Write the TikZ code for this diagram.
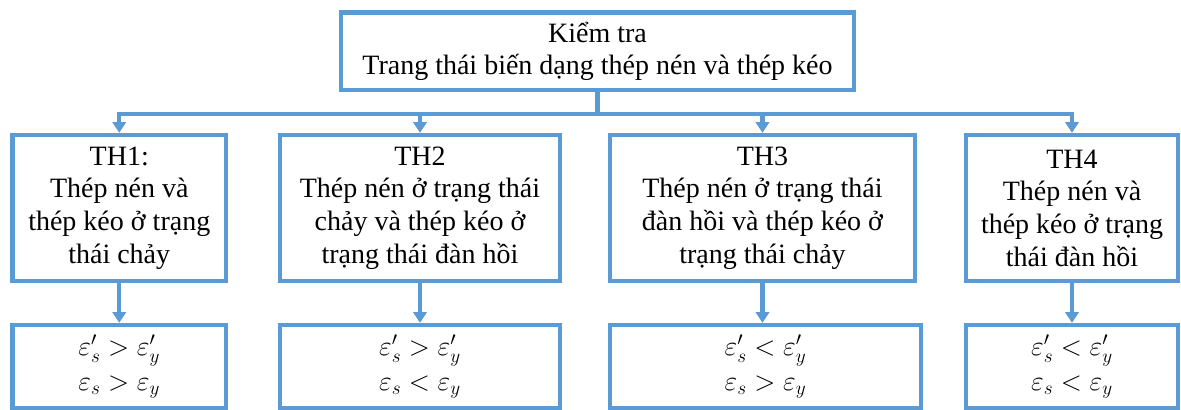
\documentclass[tikz,border=0pt]{standalone}
\usepackage{fontspec}
\setmainfont{Liberation Serif}
\usetikzlibrary{arrows.meta}
\definecolor{boxblue}{RGB}{91,155,213}

\begin{document}
\begin{tikzpicture}[x=0.75pt, y=-0.75pt,
		box/.style={draw=boxblue, line width=3.3pt, align=center, inner sep=0pt,
			font=\fontsize{21}{24.5}\selectfont},
		arrow/.style={draw=boxblue, line width=3.3pt, -{Triangle[width=10pt, length=8pt]}}]
		\useasboundingbox (0, 0) rectangle (1181, 410);
		
		% top box
		\node[box, minimum width=384.75pt, minimum height=58.1pt] (check) at (597.5, 51.25)
			{Kiểm tra\\Trang thái biến dạng thép nén và thép kéo};
		
		% the four cases
		\node[box, minimum width=160.1pt, minimum height=109.5pt] (th1) at (119.25, 208)
			{TH1:\\Thép nén và\\thép kéo ở trạng\\thái chảy};
		\node[box, minimum width=210pt, minimum height=109.5pt] (th2) at (420, 208)
			{TH2\\Thép nén ở trạng thái\\chảy và thép kéo ở\\trạng thái đàn hồi};
		\node[box, minimum width=228.75pt, minimum height=109.5pt] (th3) at (762.5, 208)
			{TH3\\Thép nén ở trạng thái\\đàn hồi và thép kéo ở\\trạng thái chảy};
		\node[box, minimum width=159pt, minimum height=109.5pt] (th4) at (1072, 208)
			{TH4\\Thép nén và\\thép kéo ở trạng\\thái đàn hồi};
		
		% conditions
		\node[box, minimum width=160.1pt, minimum height=62.25pt] (cond1) at (119.25, 366.5)
			{$\varepsilon_s' > \varepsilon_y'$\\[2pt]$\varepsilon_s > \varepsilon_y$};
		\node[box, minimum width=210pt, minimum height=62.25pt] (cond2) at (420, 366.5)
			{$\varepsilon_s' > \varepsilon_y'$\\[2pt]$\varepsilon_s < \varepsilon_y$};
		\node[box, minimum width=233.25pt, minimum height=62.25pt] (cond3) at (765.5, 366.5)
			{$\varepsilon_s' < \varepsilon_y'$\\[2pt]$\varepsilon_s > \varepsilon_y$};
		\node[box, minimum width=159pt, minimum height=62.25pt] (cond4) at (1072, 366.5)
			{$\varepsilon_s' < \varepsilon_y'$\\[2pt]$\varepsilon_s < \varepsilon_y$};
		
		\coordinate (bus) at (597.5, 114);
		\draw[boxblue, line width=3.3pt] (check.south) -- (check.south |- bus);
		\draw[boxblue, line width=3.3pt, line cap=rect] (th1.north |- bus) -- (th4.north |- bus);
		
		\draw[arrow] (th1.north |- bus) -- (th1.north);
		\draw[arrow] (th2.north |- bus) -- (th2.north);
		\draw[arrow] (th3.north |- bus) -- (th3.north);
		\draw[arrow] (th4.north |- bus) -- (th4.north);
		
		\draw[arrow] (th1.south) -- (cond1.north -| th1.south);
		\draw[arrow] (th2.south) -- (cond2.north -| th2.south);
		\draw[arrow] (th3.south) -- (cond3.north -| th3.south);
		\draw[arrow] (th4.south) -- (cond4.north -| th4.south);
	\end{tikzpicture}
\end{document}
